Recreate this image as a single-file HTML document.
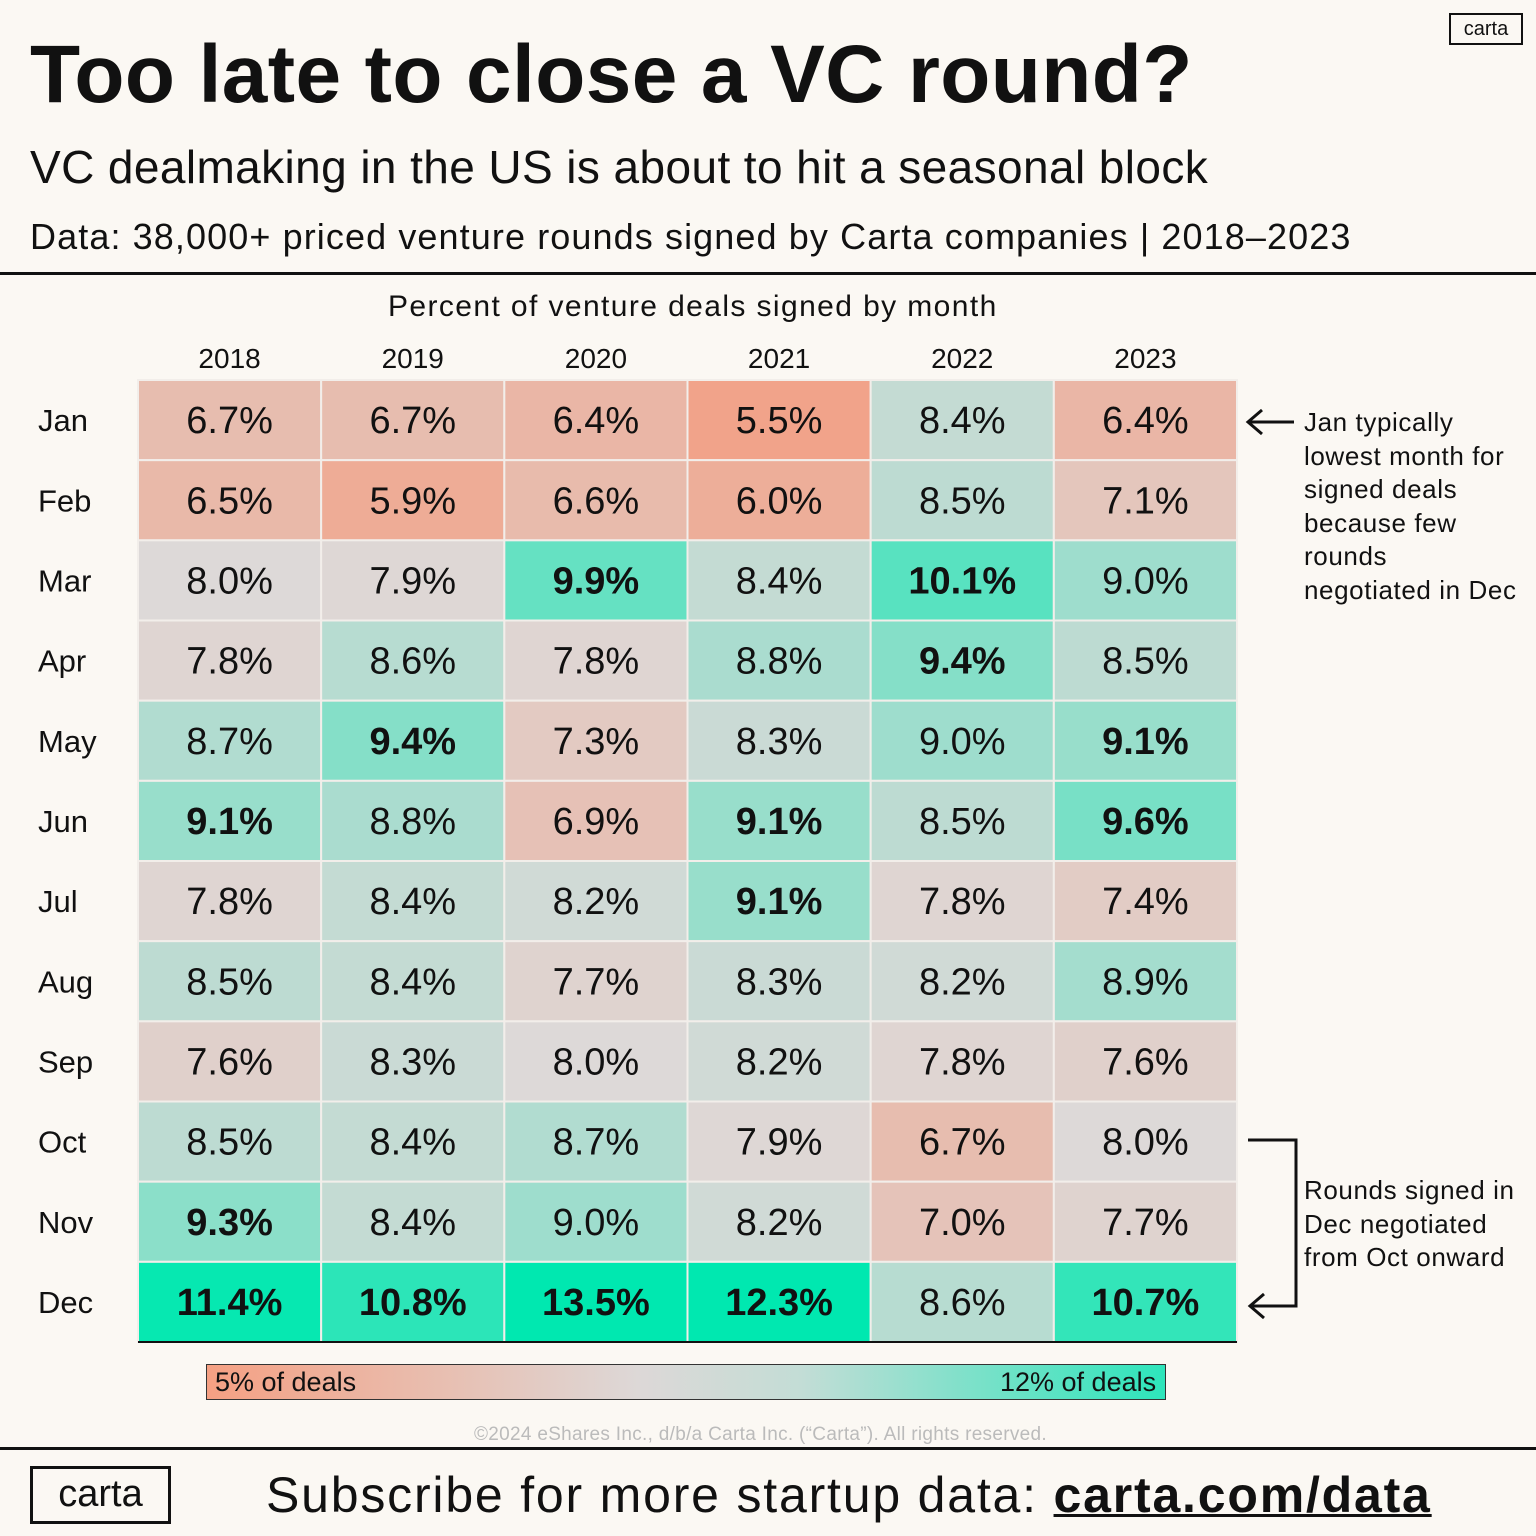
<!DOCTYPE html>
<html><head><meta charset="utf-8">
<style>
body{margin:0;background:#fbf8f3;font-family:"Liberation Sans",sans-serif;color:#111;}
#root{position:relative;width:1536px;height:1536px;overflow:hidden;background:#fbf8f3;}
.a{position:absolute;white-space:nowrap;}
</style></head><body>
<div id="root">
<div class="a" style="left:30px;top:28px;font-size:82px;font-weight:bold;letter-spacing:0.4px;">Too late to close a VC round?</div>
<div class="a" style="left:30px;top:140px;font-size:46px;letter-spacing:0.4px;">VC dealmaking in the US is about to hit a seasonal block</div>
<div class="a" style="left:30px;top:216px;font-size:36px;letter-spacing:1.1px;">Data: 38,000+ priced venture rounds signed by Carta companies | 2018–2023</div>
<div class="a" style="left:1449px;top:13px;width:70px;height:28px;border:2px solid #111;font-size:20px;text-align:center;line-height:28px;">carta</div>
<div class="a" style="left:0;top:272px;width:1536px;height:3px;background:#111;"></div>
<div class="a" style="left:388px;top:290px;font-size:30px;letter-spacing:1.4px;">Percent of venture deals signed by month</div>
<svg id="chart" class="a" style="left:0;top:0" width="1536" height="1536"></svg>
<div class="a" style="left:206px;top:1364px;width:958px;height:34px;border:1.5px solid #333;background:linear-gradient(to right,#f5a083,#ddd8d7 45%,#c3ddd6 62%,#2de5bb);"></div>
<div class="a" style="left:215px;top:1367px;font-size:27px;">5% of deals</div>
<div class="a" style="left:1000px;top:1367px;font-size:27px;">12% of deals</div>
<div class="a" style="left:1304px;top:406px;font-size:26px;line-height:33.6px;letter-spacing:0.6px;">Jan typically<br>lowest month for<br>signed deals<br>because few<br>rounds<br>negotiated in Dec</div>
<div class="a" style="left:1304px;top:1174px;font-size:26px;line-height:33.6px;letter-spacing:0.6px;">Rounds signed in<br>Dec negotiated<br>from Oct onward</div>
<div class="a" style="left:474px;top:1424px;font-size:19px;color:#bbb;letter-spacing:0.3px;">©2024 eShares Inc., d/b/a Carta Inc. (“Carta”). All rights reserved.</div>
<div class="a" style="left:0;top:1447px;width:1536px;height:3px;background:#111;"></div>
<div class="a" style="left:30px;top:1466px;width:135px;height:52px;border:3px solid #111;font-size:38px;text-align:center;line-height:50px;">carta</div>
<div class="a" style="left:266px;top:1466px;font-size:50px;letter-spacing:1.8px;">Subscribe for more startup data: <a style="font-weight:bold;color:#111;text-decoration:underline;text-decoration-thickness:3px;">carta.com/data</a></div>
</div>
<script>
const years=["2018","2019","2020","2021","2022","2023"];
const months=["Jan","Feb","Mar","Apr","May","Jun","Jul","Aug","Sep","Oct","Nov","Dec"];
const v2018=[6.7,6.5,8.0,7.8,8.7,9.1,7.8,8.5,7.6,8.5,9.3,11.4];
const v2019=[6.7,5.9,7.9,8.6,9.4,8.8,8.4,8.4,8.3,8.4,8.4,10.8];
const v2020=[6.4,6.6,9.9,7.8,7.3,6.9,8.2,7.7,8.0,8.7,9.0,13.5];
const v2021=[5.5,6.0,8.4,8.8,8.3,9.1,9.1,8.3,8.2,7.9,8.2,12.3];
const v2022=[8.4,8.5,10.1,9.4,9.0,8.5,7.8,8.2,7.8,6.7,7.0,8.6];
const v2023=[6.4,7.1,9.0,8.5,9.1,9.6,7.4,8.9,7.6,8.0,7.7,10.7];
const series=[v2018,v2019,v2020,v2021,v2022,v2023];
const NS="http://www.w3.org/2000/svg";
const svg=document.getElementById('chart');
const x0=138,x1=1237,y0=380,y1=1342;
const cw=(x1-x0)/years.length, rh=(y1-y0)/months.length;
const xs=i=>x0+i*cw, ys=j=>y0+j*rh;
function lerp(a,b,t){return a.map((c,i)=>Math.round(c+(b[i]-c)*t));}
function color(v){
  const lo=[245,152,122],mid=[221,217,216],hi=[0,232,176];
  let c;
  if(v<=8){const t=Math.max(0,(v-5)/3);c=lerp(lo,mid,t);}
  else{const t=Math.min(1,(v-8)/3.5);c=lerp(mid,hi,t);}
  return `rgb(${c.join(',')})`;
}
function mk(tag,attrs,txt){const e=document.createElementNS(NS,tag);for(const k in attrs)e.setAttribute(k,attrs[k]);if(txt!=null)e.textContent=txt;svg.appendChild(e);return e;}
years.forEach((y,i)=>{
  const t=mk('text',{x:xs(i)+cw/2,y:368,'text-anchor':'middle','font-size':28,'font-family':'Liberation Sans, sans-serif',fill:'#111'},y);
  
  
});
months.forEach((m,j)=>{
  const t=mk('text',{x:38,y:ys(j)+rh/2+11,'font-size':31,'font-family':'Liberation Sans, sans-serif',fill:'#111'},m);
  
  
});
series.forEach((s,i)=>{
  s.forEach((v,j)=>{
    const r=mk('rect',{x:xs(i),y:ys(j),width:cw,height:rh,fill:color(v),stroke:'#f2eeea','stroke-width':2});
    
    
    const t=mk('text',{x:xs(i)+cw/2,y:ys(j)+rh/2+13,'text-anchor':'middle','font-size':38,'font-weight':v>=9.1?'bold':'normal','font-family':'Liberation Sans, sans-serif',fill:'#111'},v.toFixed(1)+'%');
    
    
  });
});
const bl=mk('line',{x1:x0,y1:y1,x2:x1,y2:y1,stroke:'#111','stroke-width':2});


const a1=mk('path',{d:'M1294 422 H1248 M1262 410 L1248 422 L1262 434',stroke:'#111','stroke-width':3,fill:'none'});


const a2=mk('path',{d:'M1248 1140 H1296 V1306 H1250 M1264 1294 L1250 1306 L1264 1318',stroke:'#111','stroke-width':3,fill:'none'});


</script>
</body></html>
